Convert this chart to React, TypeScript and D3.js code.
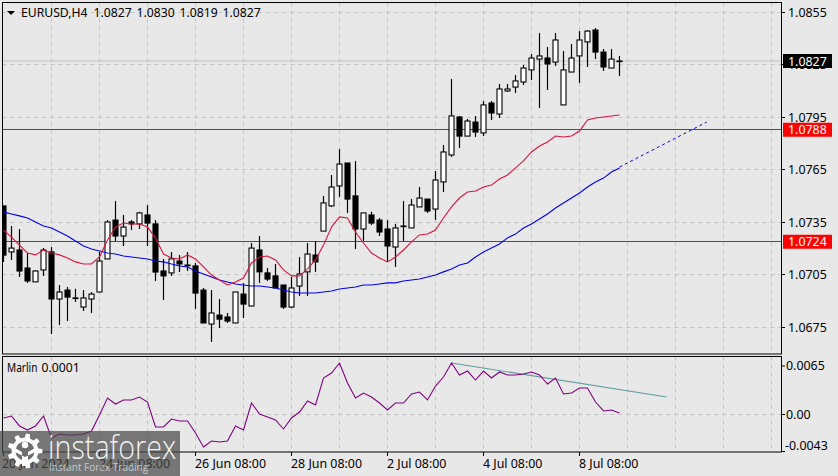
import React from "react";
import * as d3 from "d3";

const opens = [1.07442,1.07179,1.07190,1.07087,1.07008,1.07076,1.07179,1.06910,1.06961,1.06916,1.06864,1.06910,1.06950,1.07139,1.07361,1.07270,1.07350,1.07339,1.07390,1.07339,1.07070,1.07059,1.07127,1.07104,1.07099,1.06961,1.06767,1.06818,1.06807,1.06773,1.06938,1.06870,1.07190,1.07059,1.07042,1.06990,1.06864,1.06984,1.07065,1.07161,1.07298,1.07442,1.07556,1.07687,1.07499,1.07310,1.07390,1.07361,1.07310,1.07207,1.07327,1.07316,1.07436,1.07481,1.07424,1.07579,1.07733,1.07950,1.07841,1.07921,1.07859,1.08030,1.07967,1.08099,1.08121,1.08150,1.08219,1.08281,1.08287,1.08264,1.08019,1.08207,1.08299,1.08379,1.08447,1.08321,1.08230,1.08270];
const highs = [1.07442,1.07327,1.07310,1.07173,1.07076,1.07201,1.07207,1.06990,1.06979,1.06968,1.06961,1.06950,1.07179,1.07361,1.07470,1.07390,1.07361,1.07408,1.07447,1.07361,1.07139,1.07179,1.07161,1.07179,1.07116,1.06973,1.06961,1.06910,1.06830,1.06950,1.07002,1.07230,1.07270,1.07087,1.07110,1.06990,1.07036,1.07150,1.07230,1.07241,1.07499,1.07618,1.07767,1.07687,1.07698,1.07402,1.07408,1.07373,1.07361,1.07339,1.07470,1.07481,1.07550,1.07481,1.07641,1.07790,1.08167,1.07956,1.07939,1.07956,1.08041,1.08041,1.08139,1.08139,1.08190,1.08247,1.08310,1.08430,1.08350,1.08430,1.08327,1.08367,1.08441,1.08447,1.08459,1.08339,1.08339,1.08299];
const lows = [1.07122,1.07133,1.07036,1.07002,1.07008,1.07042,1.06710,1.06761,1.06784,1.06893,1.06841,1.06830,1.06950,1.07139,1.07241,1.07213,1.07304,1.07310,1.07213,1.07013,1.06904,1.07042,1.07064,1.07070,1.06853,1.06773,1.06665,1.06744,1.06773,1.06773,1.06801,1.06870,1.07002,1.07013,1.06973,1.06853,1.06858,1.06927,1.06927,1.07065,1.07298,1.07436,1.07493,1.07402,1.07196,1.07241,1.07333,1.07270,1.07122,1.07093,1.07241,1.07316,1.07436,1.07402,1.07361,1.07521,1.07721,1.07773,1.07841,1.07836,1.07841,1.07933,1.07944,1.08093,1.08087,1.08133,1.08161,1.08001,1.08104,1.08241,1.08019,1.08207,1.08144,1.08236,1.08281,1.08213,1.08230,1.08184];
const closes = [1.07161,1.07201,1.07070,1.07013,1.07070,1.07190,1.06910,1.06950,1.06921,1.06913,1.06916,1.06938,1.07127,1.07350,1.07270,1.07321,1.07339,1.07402,1.07344,1.07064,1.07042,1.07139,1.07110,1.07100,1.06944,1.06773,1.06830,1.06795,1.06784,1.06950,1.06881,1.07201,1.07065,1.07024,1.06973,1.06864,1.06973,1.07053,1.07167,1.07122,1.07459,1.07550,1.07681,1.07481,1.07310,1.07402,1.07344,1.07293,1.07213,1.07316,1.07324,1.07447,1.07487,1.07413,1.07590,1.07750,1.07956,1.07841,1.07927,1.07864,1.08019,1.07973,1.08110,1.08110,1.08156,1.08230,1.08287,1.08299,1.08253,1.08390,1.08219,1.08287,1.08390,1.08441,1.08321,1.08236,1.08281,1.08270];
const redMA = [1.07304,1.07264,1.07218,1.07173,1.07162,1.07190,1.07173,1.07162,1.07144,1.07122,1.07110,1.07110,1.07150,1.07247,1.07321,1.07344,1.07339,1.07339,1.07321,1.07258,1.07167,1.07144,1.07139,1.07162,1.07139,1.07093,1.07047,1.07019,1.06990,1.07007,1.07030,1.07116,1.07150,1.07156,1.07133,1.07076,1.07042,1.07042,1.07082,1.07133,1.07218,1.07321,1.07379,1.07373,1.07293,1.07230,1.07173,1.07144,1.07122,1.07150,1.07190,1.07236,1.07276,1.07281,1.07304,1.07373,1.07436,1.07487,1.07521,1.07527,1.07550,1.07561,1.07596,1.07619,1.07659,1.07699,1.07750,1.07784,1.07807,1.07841,1.07836,1.07841,1.07870,1.07933,1.07944,1.07950,1.07956,1.07961];
const blueMA = [1.07408,1.07396,1.07385,1.07373,1.07350,1.07327,1.07316,1.07293,1.07270,1.07241,1.07213,1.07196,1.07184,1.07173,1.07167,1.07156,1.07150,1.07144,1.07139,1.07127,1.07122,1.07110,1.07099,1.07093,1.07070,1.07053,1.07036,1.07019,1.07007,1.06996,1.06990,1.06984,1.06984,1.06979,1.06973,1.06961,1.06950,1.06944,1.06944,1.06944,1.06950,1.06956,1.06967,1.06973,1.06979,1.06990,1.06990,1.06996,1.07002,1.07002,1.07013,1.07019,1.07024,1.07036,1.07047,1.07065,1.07082,1.07104,1.07116,1.07150,1.07179,1.07201,1.07224,1.07259,1.07281,1.07316,1.07339,1.07367,1.07396,1.07430,1.07459,1.07487,1.07516,1.07550,1.07579,1.07601,1.07636,1.07659];
const marlin = [-0.00054,-0.00027,-0.00162,-0.00217,-0.00162,-0.00027,-0.00325,-0.00271,-0.00284,-0.00284,-0.00271,-0.00230,-0.00014,0.00217,0.00135,0.00190,0.00190,0.00230,0.00162,-0.00176,-0.00176,-0.00068,-0.00095,-0.00095,-0.00257,-0.00447,-0.00366,-0.00379,-0.00366,-0.00162,-0.00217,0.00149,0,-0.00041,-0.00081,-0.00203,-0.00054,0.00027,0.00176,0.00122,0.00487,0.00555,0.00691,0.00420,0.00217,0.00284,0.00230,0.00149,0.00054,0.00149,0.00149,0.00271,0.00298,0.00190,0.00379,0.00501,0.00691,0.00528,0.00582,0.00460,0.00582,0.00487,0.00569,0.00528,0.00528,0.00542,0.00569,0.00528,0.00406,0.00487,0.00271,0.00284,0.00352,0.00352,0.00162,0.00041,0.00054,0.00014];

const priceTicks = [1.0855, 1.0825, 1.0795, 1.0765, 1.0735, 1.0705, 1.0675];
const levelLines = [1.0788, 1.0724];
const bidPrice = 1.0827;
const trendBlue: [number, number][] = [[77, 1.07664], [87.9, 1.07921]];
const trendTeal: [number, number][] = [[56, 0.00691], [82.9, 0.0023]];
const gridEvery = 6;
const timeLabels: [number, string][] = [[0, "20 Jun 2024"], [12, "24 Jun 08:00"], [24, "26 Jun 08:00"], [36, "28 Jun 08:00"], [48, "2 Jul 08:00"], [60, "4 Jul 08:00"], [72, "8 Jul 08:00"]];
const titleSymbol = "EURUSD,H4";
const titleValues = ["1.0827", "1.0830", "1.0819", "1.0827"];

const FONT = "'Noto Sans', sans-serif";
const BG = "#e8e8e8";
const GRID = "#c4c4c4";
const L = 2.5, R = 781.5, MT = 2.5, MB = 354, ST = 356.5, SB = 452;

const x = d3.scaleLinear().domain([0, 1]).range([3.5, 11.5]);
const y = d3.scaleLinear().domain([1.0855, 1.0675]).range([12, 327]);
const ys = d3.scaleLinear().domain([0, 0.0065]).range([414, 366]);

const priceLine = d3.line<number>().x((_, i) => x(i)).y((d) => y(d));
const marlinLine = d3.line<number>().x((_, i) => x(i)).y((d) => ys(d));
const trendPrice = d3.line<[number, number]>().x((d) => x(d[0])).y((d) => y(d[1]));
const trendSub = d3.line<[number, number]>().x((d) => x(d[0])).y((d) => ys(d[1]));

const gridIdx = d3.range(6, 132, gridEvery).filter((i) => x(i) < R);

// watermark gear
const gearCx = 25, gearCy = 451;
const gearPath = (() => {
  const teeth = 9, ro = 17.5, ri = 13.5;
  const pts: string[] = [];
  for (let i = 0; i < teeth; i++) {
    const a = (i / teeth) * 2 * Math.PI;
    const w = (2 * Math.PI) / teeth;
    [[-0.28, ri], [-0.17, ro], [0.17, ro], [0.28, ri]].forEach(([f, r]) => {
      const t = a + f * w;
      pts.push(`${gearCx + r * Math.cos(t)},${gearCy + r * Math.sin(t)}`);
    });
  }
  return "M" + pts.join("L") + "Z";
})();

export default function App() {
  return (
    <svg width={838} height={476} style={{ position: "fixed", left: 0, top: 0, display: "block" }} fontFamily={FONT}>
      <rect width={838} height={476} fill={BG} />
      <defs>
        <clipPath id="mainClip"><rect x={L} y={MT} width={R - L} height={MB - MT} /></clipPath>
      </defs>
      {/* grid main */}
      <g stroke={GRID} strokeWidth={1} strokeDasharray="4 4">
        {priceTicks.map((p) => <line key={p} x1={L} x2={R} y1={Math.round(y(p)) + 0.5} y2={Math.round(y(p)) + 0.5} />)}
        {gridIdx.map((i) => <line key={i} x1={Math.floor(x(i)) + 0.5} x2={Math.floor(x(i)) + 0.5} y1={MT} y2={MB} />)}
        {gridIdx.map((i) => <line key={"s" + i} x1={Math.floor(x(i)) + 0.5} x2={Math.floor(x(i)) + 0.5} y1={ST} y2={SB} />)}
        <line x1={L} x2={R} y1={414.5} y2={414.5} />
      </g>
      <line x1={L} x2={R} y1={y(bidPrice)} y2={y(bidPrice)} stroke="#c0c0c0" />
      {levelLines.map((p) => <line key={p} x1={L} x2={R} y1={Math.round(y(p)) + 0.5} y2={Math.round(y(p)) + 0.5} stroke="#e01010" />)}
      {/* candles */}
      <g clipPath="url(#mainClip)">
        {opens.map((o, i) => {
          const c = closes[i];
          const top = y(Math.max(o, c));
          const bot = y(Math.min(o, c));
          const cx = Math.round(x(i) - 0.5) + 0.5;
          const up = c > o;
          return (
            <g key={i}>
              <line x1={cx} x2={cx} y1={y(highs[i])} y2={y(lows[i])} stroke="#000" strokeWidth={1.2} />
              <rect x={cx - 2.5} y={top} width={5} height={Math.max(bot - top, 0.6)} fill={up ? "#fff" : "#000"} stroke="#000" strokeWidth={1.1} />
            </g>
          );
        })}
        <path d={priceLine(blueMA) ?? ""} fill="none" stroke="#0000f0" strokeWidth={1.1} />
        <path d={priceLine(redMA) ?? ""} fill="none" stroke="#dc143c" strokeWidth={1.1} />
        <path d={trendPrice(trendBlue) ?? ""} fill="none" stroke="#0000f0" strokeWidth={1} strokeDasharray="3 3" />
      </g>
      {/* sub pane */}
      <path d={trendSub(trendTeal) ?? ""} fill="none" stroke="#5f9ea0" strokeWidth={1.1} />
      <path d={marlinLine(marlin) ?? ""} fill="none" stroke="#800080" strokeWidth={1.1} />
      {/* frames */}
      <rect x={L} y={MT} width={R - L} height={MB - MT} fill="none" stroke="#000" />
      <rect x={L} y={ST} width={R - L} height={SB - ST} fill="none" stroke="#000" />
      {/* title */}
      <path d="M7,11 L15,11 L11,15 Z" fill="#000" />
      <g fontSize={12.2} fill="#000">
        <text x={21} y={17}>{titleSymbol}</text>
        {titleValues.map((v, i) => <text key={i} x={93.5 + i * 43} y={17}>{v}</text>)}
        <text transform="translate(7,372) scale(0.84,1)" fontSize={12}>Marlin</text>
        <text x={41.5} y={372}>0.0001</text>
      </g>
      {/* price axis */}
      {priceTicks.map((p) => (
        <g key={p}>
          <line x1={R} x2={785} y1={Math.round(y(p)) + 0.5} y2={Math.round(y(p)) + 0.5} stroke="#000" />
          <text x={788} y={y(p) + 4.5} fontSize={12.4} fill="#000">{p.toFixed(4)}</text>
        </g>
      ))}
      <rect x={783} y={y(bidPrice) - 7} width={49} height={14} fill="#000" />
      <text x={788} y={y(bidPrice) + 4.5} fontSize={12.4} fill="#fff">{bidPrice.toFixed(4)}</text>
      {levelLines.map((p) => (
        <g key={p}>
          <rect x={783} y={y(p) - 6.5} width={49} height={14} fill="#ff0000" />
          <text x={788} y={y(p) + 5} fontSize={12.4} fill="#fff">{p.toFixed(4)}</text>
        </g>
      ))}
      {/* sub axis */}
      <line x1={R} x2={785} y1={366} y2={366} stroke="#000" />
      <line x1={R} x2={785} y1={414.5} y2={414.5} stroke="#000" />
      <line x1={R} x2={785} y1={451.5} y2={451.5} stroke="#000" />
      <text x={786} y={370} fontSize={12.4} fill="#000">0.0065</text>
      <text x={786} y={418.5} fontSize={12.4} fill="#000">0.00</text>
      <text x={785} y={449.5} fontSize={12.4} fill="#000">-0.0043</text>
      {/* time axis */}
      {timeLabels.map(([i, t]) => (
        <g key={t}>
          <line x1={Math.floor(x(i)) + 0.5} x2={Math.floor(x(i)) + 0.5} y1={SB} y2={456} stroke="#000" />
          <text x={i === 0 ? 2 : Math.floor(x(i))} y={468} fontSize={12.4} fill="#000">{t}</text>
        </g>
      ))}
      {/* watermark */}
      <rect x={0} y={431} width={180} height={45} fill="#4a4a4a" opacity={0.72} />
      <g fill="#fff">
        <path d={gearPath} />
        <circle cx={gearCx} cy={gearCy} r={9.5} fill="#6e6e6e" />
        <circle cx={gearCx} cy={gearCy - 6} r={3.2} />
        <path d={`M${gearCx - 10},${gearCy - 3} L${gearCx - 3},${gearCy + 1} L${gearCx - 3},${gearCy + 15} L${gearCx + 3},${gearCy + 15} L${gearCx + 3},${gearCy + 1} L${gearCx + 10},${gearCy - 3} L${gearCx + 10},${gearCy + 1} L${gearCx},${gearCy + 6} L${gearCx - 10},${gearCy + 1} Z`} />
        <text transform="translate(48,459) scale(0.87,1)" fontSize={33} fontFamily="'Open Sans', sans-serif" fontWeight={300} fillOpacity={0.92}>instaforex</text>
        <text x={49} y={471} fontSize={10} fontFamily="'Open Sans', sans-serif" fillOpacity={0.62}>Instant Forex Trading</text>
      </g>
    </svg>
  );
}
